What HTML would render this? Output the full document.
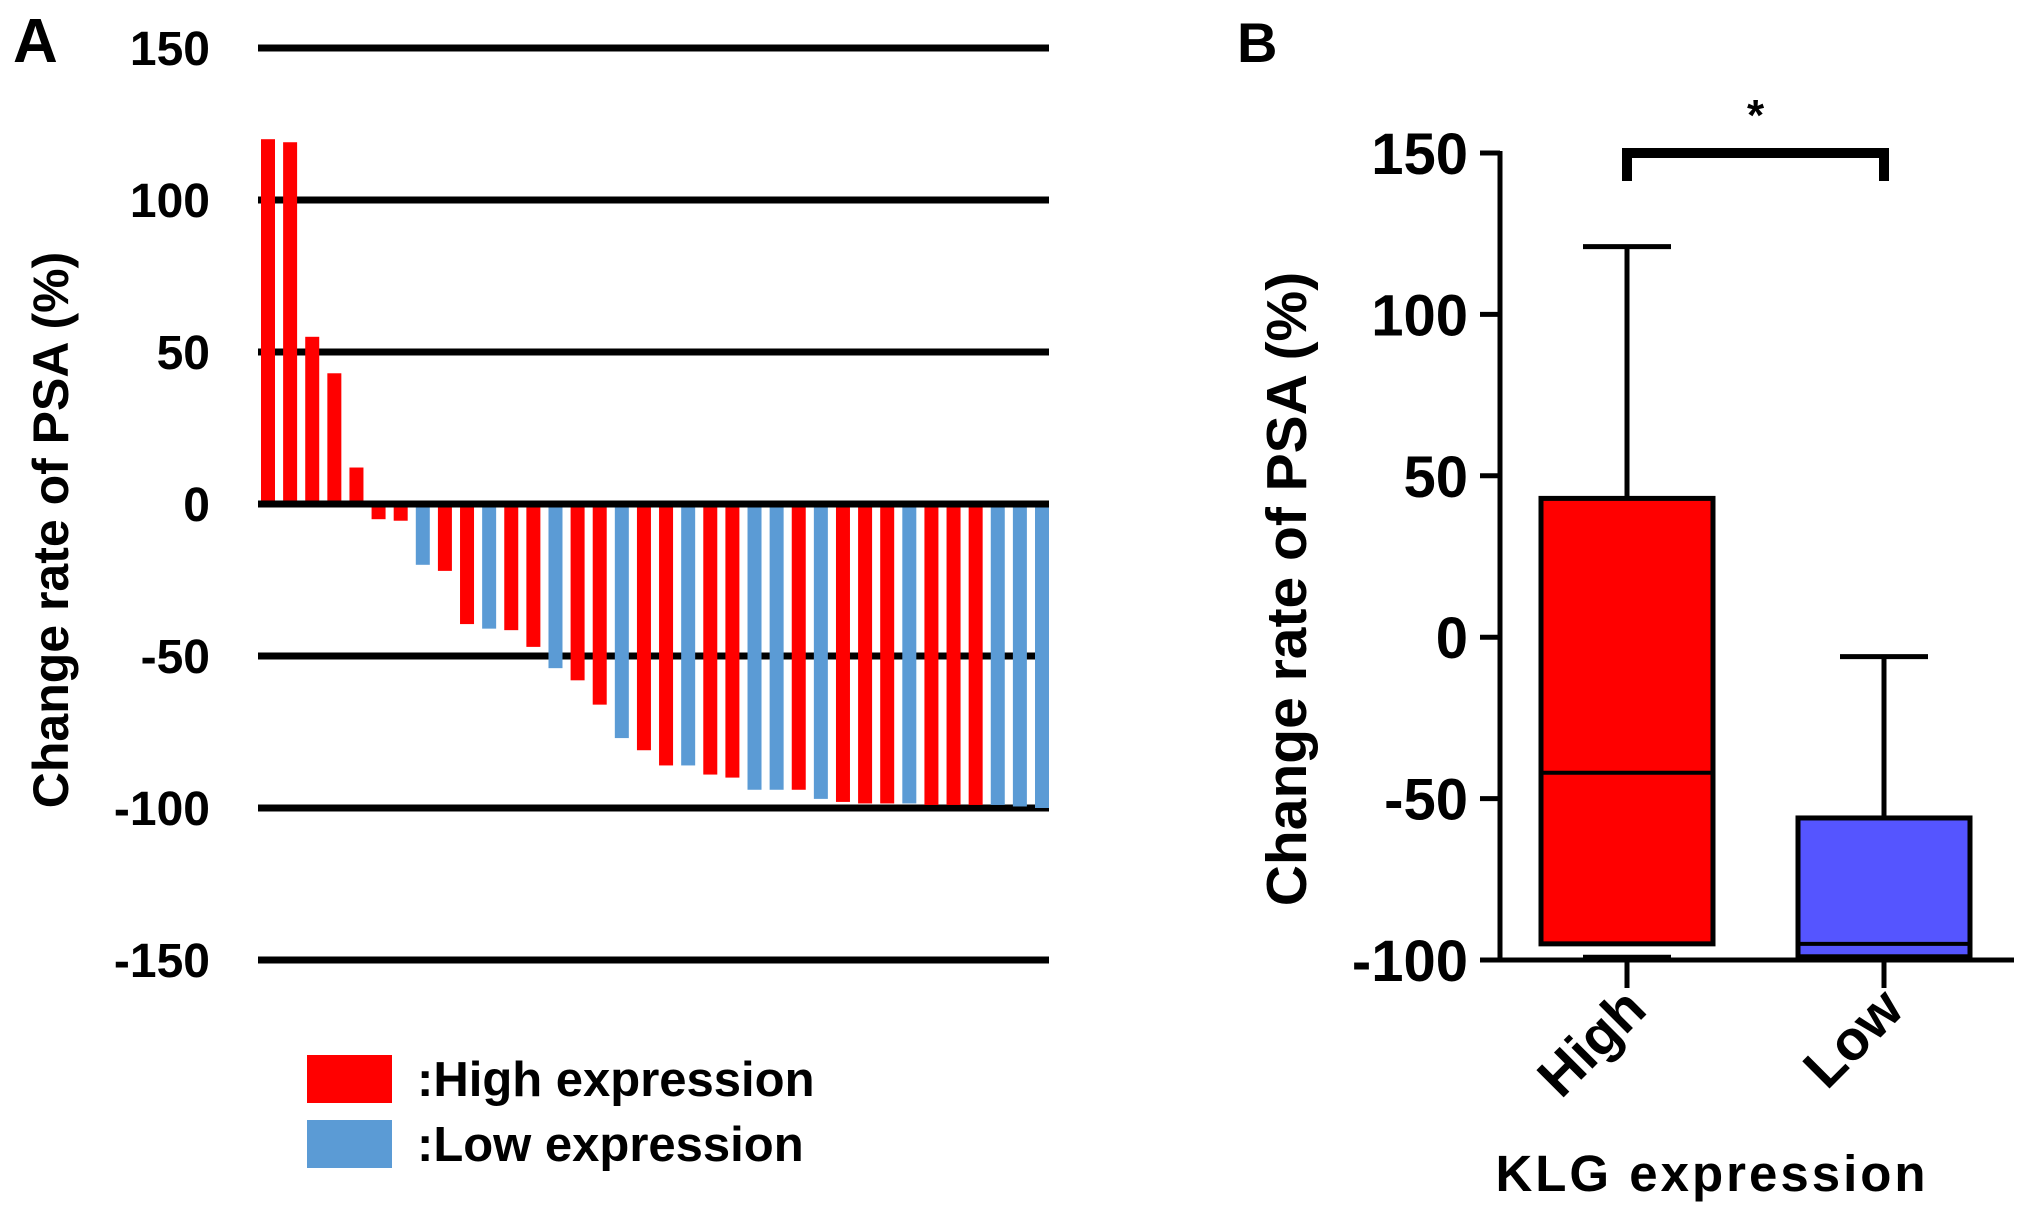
<!DOCTYPE html>
<html><head><meta charset="utf-8"><style>
html,body{margin:0;padding:0;background:#fff;}
svg{display:block;font-family:"Liberation Sans",Arial,sans-serif;font-weight:bold;}
</style></head><body>
<svg id="chart" width="2031" height="1219" viewBox="0 0 2031 1219">
<text x="13" y="62" font-size="62">A</text>
<text x="1237" y="62" font-size="56">B</text>
<g id="pa"></g>
<g id="pb"></g>
</svg>
<script>
const waterfallValues=[120,119,55,43,12,-5,-5.5,-20,-22,-39.5,-41,-41.5,-47,-54,-58,-66,-77,-81,-86,-86,-89,-90,-94,-94,-94,-97,-98,-98.5,-98.5,-98.5,-99,-99,-99,-99,-99.5,-100];
const waterfallGroups=["H","H","H","H","H","H","H","L","H","H","L","H","H","L","H","H","L","H","H","L","H","H","L","L","H","L","H","H","H","L","H","H","H","L","L","L"];
const aTicks=[150,100,50,0,-50,-100,-150];
const boxGroups=["High","Low"];
const boxMin=[-99,-100];
const boxQ1=[-95,-99];
const boxMedian=[-42,-95];
const boxQ3=[43,-56];
const boxMax=[121,-6];
const bTicks=[150,100,50,0,-50,-100];

const NS="http://www.w3.org/2000/svg";
function mk(tag,attrs,parent,text){const e=document.createElementNS(NS,tag);for(const k in attrs)e.setAttribute(k,attrs[k]);if(text!==undefined)e.textContent=text;parent.appendChild(e);return e;}
const pa=document.getElementById('pa');
const ya=v=>504-(v)*152/50;
const xL=258,xR=1049;
aTicks.forEach(t=>{
  const l=mk('line',{x1:xL,x2:xR,y1:ya(t),y2:ya(t),stroke:'#000','stroke-width':7},pa);
  
  
  const tx=mk('text',{x:210,y:ya(t)+17,'font-size':48,'text-anchor':'end'},pa,String(t));
  
  
});
const pitch=(xR-261-14)/(waterfallValues.length-1);
waterfallValues.forEach((v,i)=>{
  const x=261+i*pitch;
  const r=mk('rect',{x:x,y:Math.min(ya(v),ya(0)),width:14,height:Math.abs(ya(v)-ya(0)),fill:waterfallGroups[i]==='H'?'#ff0000':'#5b9bd5'},pa);
  
  
});
const z=mk('line',{x1:xL,x2:xR,y1:ya(0),y2:ya(0),stroke:'#000','stroke-width':7},pa);


const ta=mk('text',{x:0,y:0,'font-size':50,'text-anchor':'middle',transform:'translate(68,530) rotate(-90)'},pa,'Change rate of PSA (%)');


[['#ff0000',1055,':High expression'],['#5b9bd5',1120,':Low expression']].forEach((d,i)=>{
  const r=mk('rect',{x:307,y:d[1],width:85,height:48,fill:d[0]},pa);
  
  
  const t=mk('text',{x:417,y:d[1]+41,'font-size':49},pa,d[2]);
  
  
});

const pb=document.getElementById('pb');
const yb=v=>960-(v+100)*161.4/50;
const ax=1500;
const yl=mk('line',{x1:ax,x2:ax,y1:yb(150)-2,y2:yb(-100)+2,stroke:'#000','stroke-width':5},pb);


const xl=mk('line',{x1:ax,x2:2014,y1:yb(-100),y2:yb(-100),stroke:'#000','stroke-width':5},pb);


bTicks.forEach(t=>{
  const l=mk('line',{x1:1480,x2:ax,y1:yb(t),y2:yb(t),stroke:'#000','stroke-width':5},pb);
  
  
  const tx=mk('text',{x:1468,y:yb(t)+21,'font-size':58,'text-anchor':'end'},pb,String(t));
  
  
});
const centers=[1627,1884];
const fills=['#ff0000','#5555ff'];
boxGroups.forEach((g,i)=>{
  const c=centers[i];
  const w1=mk('line',{x1:c,x2:c,y1:yb(boxMax[i]),y2:yb(boxQ3[i]),stroke:'#000','stroke-width':5},pb);
  
  
  const cp=mk('line',{x1:c-44,x2:c+44,y1:yb(boxMax[i]),y2:yb(boxMax[i]),stroke:'#000','stroke-width':5},pb);
  
  
  const cp2=mk('line',{x1:c-44,x2:c+44,y1:yb(boxMin[i]),y2:yb(boxMin[i]),stroke:'#000','stroke-width':4},pb);
  
  
  const b=mk('rect',{x:c-86,y:yb(boxQ3[i]),width:172,height:yb(boxQ1[i])-yb(boxQ3[i]),fill:fills[i],stroke:'#000','stroke-width':5},pb);
  
  
  const m=mk('line',{x1:c-86,x2:c+86,y1:yb(boxMedian[i]),y2:yb(boxMedian[i]),stroke:'#000','stroke-width':4},pb);
  
  
  const tk=mk('line',{x1:c,x2:c,y1:yb(-100),y2:yb(-100)+28,stroke:'#000','stroke-width':5},pb);
  
  
  const lb=mk('text',{x:0,y:0,'font-size':56,'text-anchor':'end',transform:`translate(${c+22},${yb(-100)+52}) rotate(-45)`},pb,g);
  
  
});
const br=mk('path',{d:`M${centers[0]},${yb(150)+28} V${yb(150)} H${centers[1]} V${yb(150)+28}`,fill:'none',stroke:'#000','stroke-width':10},pb);


const st=mk('text',{x:(centers[0]+centers[1])/2,y:130,'font-size':44,'text-anchor':'middle'},pb,'*');


const tb=mk('text',{x:0,y:0,'font-size':57,'text-anchor':'middle',transform:'translate(1306,589) rotate(-90)'},pb,'Change rate of PSA (%)');


const xt=mk('text',{x:1712,y:1191,'font-size':51,'text-anchor':'middle','letter-spacing':'3'},pb,'KLG expression');


</script>
</body></html>
